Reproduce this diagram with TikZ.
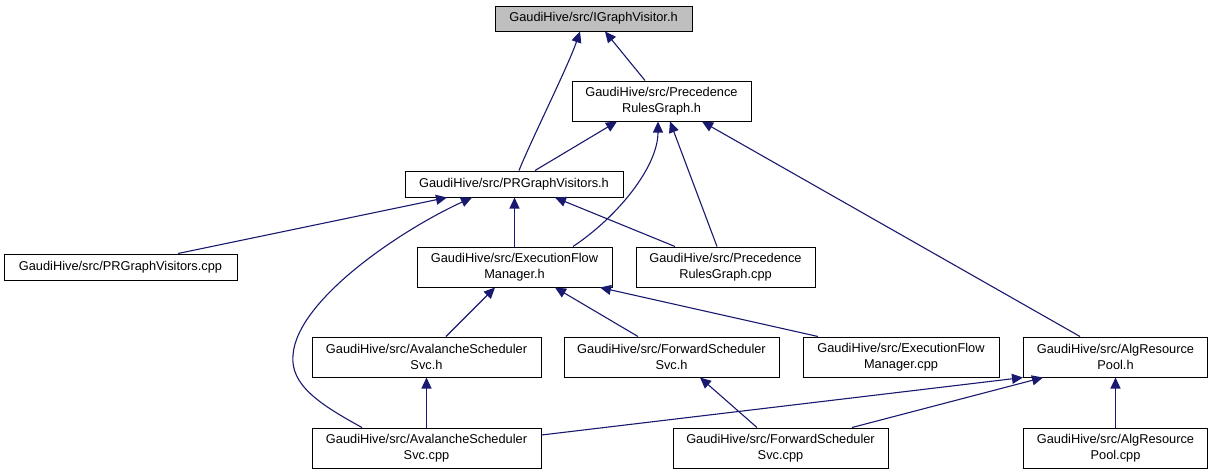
\documentclass[tikz,border=0pt]{standalone}
\usepackage{fontspec}
\setmainfont{Liberation Sans}
\usetikzlibrary{arrows.meta}
\definecolor{edgeblue}{HTML}{191970}
\definecolor{rootgray}{HTML}{BFBFBF}
\tikzset{
  fnode/.style={draw=black, line width=1pt, rectangle, inner sep=0pt, align=center,
    font=\fontsize{12.8}{16}\selectfont, text=black},
  inc/.style={draw=edgeblue, line width=1.1pt, -{Triangle[length=11pt,width=10pt]}},
}
\begin{document}
\begin{tikzpicture}[x=1pt,y=-1pt]
\useasboundingbox (0,0) rectangle (1212,475);
\fill[white] (0,0) rectangle (1212,475);
% nodes
\node[fnode, fill=rootgray, minimum width=197pt, minimum height=25pt] (igv) at (593.5,18.5) {GaudiHive/src/IGraphVisitor.h};
\node[fnode, minimum width=179pt, minimum height=40pt] (prgh) at (661.5,101) {GaudiHive/src/Precedence\\RulesGraph.h};
\node[fnode, minimum width=218pt, minimum height=26pt] (prgvh) at (514,184) {GaudiHive/src/PRGraphVisitors.h};
\node[fnode, minimum width=233pt, minimum height=26pt] (prgvcpp) at (120.5,267) {GaudiHive/src/PRGraphVisitors.cpp};
\node[fnode, minimum width=195pt, minimum height=40pt] (efmh) at (514.5,267) {GaudiHive/src/ExecutionFlow\\Manager.h};
\node[fnode, minimum width=179pt, minimum height=40pt] (prgcpp) at (725.5,267) {GaudiHive/src/Precedence\\RulesGraph.cpp};
\node[fnode, minimum width=229pt, minimum height=40pt] (ashsh) at (426.5,357) {GaudiHive/src/AvalancheScheduler\\Svc.h};
\node[fnode, minimum width=215pt, minimum height=40pt] (fssh) at (671.5,357) {GaudiHive/src/ForwardScheduler\\Svc.h};
\node[fnode, minimum width=196pt, minimum height=40pt] (efmcpp) at (901,357) {GaudiHive/src/ExecutionFlow\\Manager.cpp};
\node[fnode, minimum width=184pt, minimum height=40pt] (arph) at (1115.5,357) {GaudiHive/src/AlgResource\\Pool.h};
\node[fnode, minimum width=229pt, minimum height=40pt] (ascpp) at (426.5,448) {GaudiHive/src/AvalancheScheduler\\Svc.cpp};
\node[fnode, minimum width=215pt, minimum height=40pt] (fscpp) at (780.5,448) {GaudiHive/src/ForwardScheduler\\Svc.cpp};
\node[fnode, minimum width=184pt, minimum height=40pt] (arpcpp) at (1115.5,448) {GaudiHive/src/AlgResource\\Pool.cpp};
% edges
\draw[inc] ([xshift=5pt]prgvh.north) .. controls +(12,-30) and +(-12,35) .. ([xshift=-13.5pt]igv.south);
\draw[inc] ([xshift=-16.5pt]prgh.north) -- ([xshift=11.5pt]igv.south);
\draw[inc] ([xshift=21pt]prgvh.north) -- ([xshift=-44.5pt]prgh.south);
\draw[inc] ([xshift=58.5pt]efmh.north) .. controls +(45,-30) and +(0,45) .. ([xshift=-3.5pt]prgh.south);
\draw[inc] ([xshift=-8.5pt]prgcpp.north) -- ([xshift=8.5pt]prgh.south);
\draw[inc] ([xshift=-35.5pt]arph.north) -- ([xshift=40.5pt]prgh.south);
\draw[inc] ([xshift=57.5pt]prgvcpp.north) -- ([xshift=-67pt]prgvh.south);
\coordinate (bend) at (293,355);
\draw[inc] ([xshift=-64.5pt]ascpp.north) .. controls +(-42,-23) and +(-3,30) .. (bend)
  .. controls +(4,-55) and +(-72,33) .. ([xshift=-42pt]prgvh.south);
\draw[inc] (efmh.north) -- (efmh.north |- prgvh.south);
\draw[inc] ([xshift=-50.5pt]prgcpp.north) -- ([xshift=41pt]prgvh.south);
\draw[inc] ([xshift=19.5pt]ashsh.north) -- ([xshift=-19.5pt]efmh.south);
\draw[inc] ([xshift=-33.5pt]fssh.north) -- ([xshift=40.5pt]efmh.south);
\draw[inc] ([xshift=-83pt]efmcpp.north) -- ([xshift=85.5pt]efmh.south);
\draw[inc] (ascpp.north) -- (ashsh.south);
\draw[inc] ([xshift=-23.5pt]fscpp.north) -- ([xshift=28.5pt]fssh.south);
\draw[inc] ([yshift=13pt]ascpp.east) -- ([xshift=-92.5pt]arph.south);
\draw[inc] ([xshift=71.5pt]fscpp.north) -- ([xshift=-72.5pt]arph.south);
\draw[inc] (arpcpp.north) -- (arph.south);
\end{tikzpicture}
\end{document}
